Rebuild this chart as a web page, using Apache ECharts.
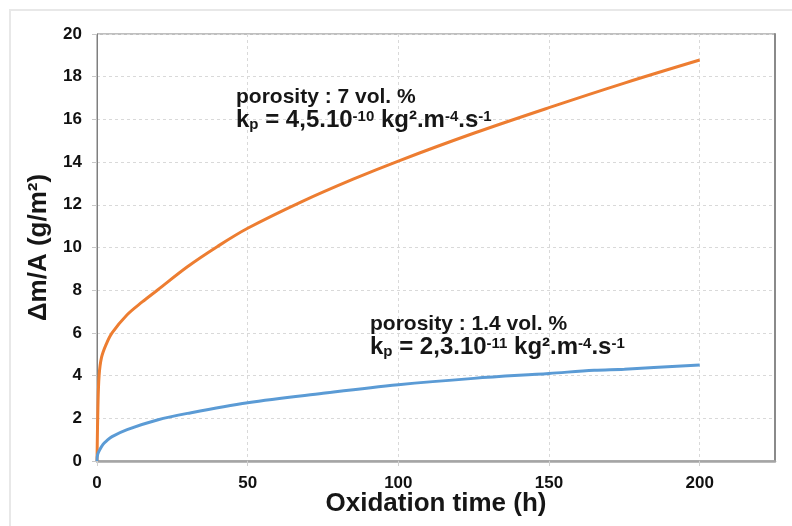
<!DOCTYPE html>
<html><head><meta charset="utf-8">
<script src="https://cdn.jsdelivr.net/npm/echarts@6/dist/echarts.min.js"></script>
<style>html,body{margin:0;padding:0;background:#fff}#c{width:792px;height:526px}</style>
</head><body><div id="c"></div>
<script>
// Oxidation time (h) and mass gain (g/m²)
const orangeTime = [0, 0.3, 0.7, 1.5, 3, 5, 10, 15, 20, 30, 40, 50, 68, 85, 100, 125, 150, 175, 200];
const orangeGain = [0, 2.5, 4.0, 4.85, 5.45, 6.0, 6.85, 7.45, 8.0, 9.1, 10.05, 10.9, 12.15, 13.2, 14.05, 15.35, 16.55, 17.7, 18.78];
const blueTime = [0, 0.2, 1, 2, 3, 5, 10, 20, 30, 50, 75, 100, 125, 150, 165, 175, 200];
const blueGain = [0, 0.3, 0.55, 0.78, 0.92, 1.14, 1.47, 1.92, 2.23, 2.73, 3.17, 3.57, 3.87, 4.1, 4.25, 4.3, 4.5];
const xTickValues = [0, 50, 100, 150, 200];
const yTickValues = [0, 2, 4, 6, 8, 10, 12, 14, 16, 18, 20];
const xTitle = 'Oxidation time (h)';
const yTitle = 'Δm/A (g/m²)';
const orangeNote = ['porosity : 7 vol. %', '4,5.10', '-10'];
const blueNote = ['porosity : 1.4 vol. %', '2,3.10', '-11'];

const FONT = "'Liberation Sans', Arial, sans-serif";
const chart = echarts.init(document.getElementById('c'), null, {renderer: 'canvas'});

function pairs(xs, ys) { return xs.map((x, i) => [x, ys[i]]); }

function noteText(note) {
  return '{a|' + note[0] + '}\n' +
    '{m|k}{sub|p}{m| = ' + note[1] + '}{sup|' + note[2] + '}{m| kg².m}{sup|-4}{m|.s}{sup|-1}';
}
const INK = '#161616';
const richStyles = {
  a: {fontSize: 21, fontWeight: 'bold', fontFamily: FONT, color: INK, lineHeight: 23},
  m: {fontSize: 24, fontWeight: 'bold', fontFamily: FONT, color: INK, lineHeight: 23},
  sup: {fontSize: 15, fontWeight: 'bold', fontFamily: FONT, color: INK, lineHeight: 15, verticalAlign: 'top'},
  sub: {fontSize: 15, fontWeight: 'bold', fontFamily: FONT, color: INK, lineHeight: 4, verticalAlign: 'bottom'}
};

const splitStyle = {show: true, lineStyle: {color: '#d9d9d9', type: [3, 3], width: 1}};

chart.setOption({
  animation: false,
  backgroundColor: '#fff',
  grid: {left: 97, right: 17, top: 34, bottom: 65, show: true, borderColor: '#7f7f7f', borderWidth: 1, backgroundColor: 'transparent'},
  xAxis: {
    type: 'value', min: 0, max: 225, interval: 50,
    name: xTitle, nameLocation: 'middle', nameGap: 30, nameMoveOverlap: false,
    nameTextStyle: {fontSize: 26, fontWeight: 'bold', fontFamily: FONT, color: INK},
    axisLine: {show: true, onZero: false, lineStyle: {color: '#a5a5a5', width: 2.5}},
    axisTick: {show: true, length: 5, lineStyle: {color: '#d0d0d0'}},
    axisLabel: {show: true, showMaxLabel: false, margin: 14, fontSize: 17, fontWeight: 'bold', fontFamily: FONT, color: '#111',
      formatter: v => xTickValues.includes(v) ? String(v) : ''},
    splitLine: splitStyle
  },
  yAxis: [{
    type: 'value', min: 0, max: 20, interval: 2,
    name: yTitle, nameLocation: 'middle', nameGap: 45, nameRotate: 90, nameMoveOverlap: false,
    nameTextStyle: {fontSize: 26, fontWeight: 'bold', fontFamily: FONT, color: INK},
    axisLine: {show: true, lineStyle: {color: '#7f7f7f', width: 1}},
    axisTick: {show: true, length: 5, lineStyle: {color: '#c8c8c8'}},
    axisLabel: {margin: 15, fontSize: 17, fontWeight: 'bold', fontFamily: FONT, color: '#111',
      formatter: v => yTickValues.includes(v) ? String(v) : ''},
    splitLine: splitStyle
  }, {
    type: 'value', min: 0, max: 20, interval: 2, position: 'right',
    axisLine: {show: true, lineStyle: {color: '#8a8a8a', width: 2}},
    axisTick: {show: false}, axisLabel: {show: false}, splitLine: {show: false}
  }],
  series: [{
    type: 'line', name: 'porosity 7 vol.%', data: pairs(orangeTime, orangeGain),
    showSymbol: false, symbol: 'none', smooth: 0.35,
    lineStyle: {color: '#ED7D31', width: 3}, z: 3
  }, {
    type: 'line', name: 'porosity 1.4 vol.%', data: pairs(blueTime, blueGain),
    showSymbol: false, symbol: 'none', smooth: 0.35,
    lineStyle: {color: '#5B9BD5', width: 3}, z: 3
  }],
  graphic: [
    {type: 'rect', shape: {x: 10, y: 10, width: 800, height: 600}, style: {fill: 'none', stroke: '#e8e8e8', lineWidth: 2}, z: -10, silent: true},
    {type: 'text', x: 236, y: 86, z: 10, style: {text: noteText(orangeNote), rich: richStyles,
      fontSize: 21, fontWeight: 'bold', fontFamily: FONT, fill: INK, lineHeight: 23, verticalAlign: 'top', align: 'left'}},
    {type: 'text', x: 370, y: 313, z: 10, style: {text: noteText(blueNote), rich: richStyles,
      fontSize: 21, fontWeight: 'bold', fontFamily: FONT, fill: INK, lineHeight: 23, verticalAlign: 'top', align: 'left'}}
  ]
});
</script></body></html>
